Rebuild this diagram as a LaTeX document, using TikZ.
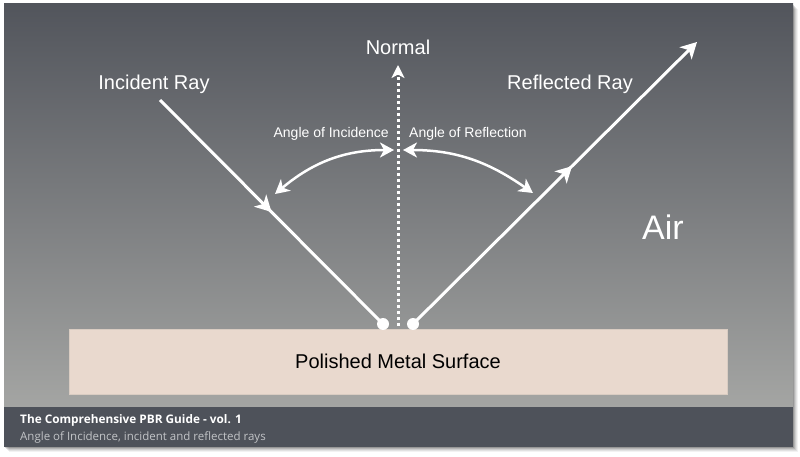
\documentclass[tikz,border=0pt]{standalone}
\usepackage{fontspec}
\setmainfont{Liberation Sans}
\newfontfamily\guidefont{Open Sans}
\usetikzlibrary{arrows.meta,decorations.markings}
\definecolor{slatetop}{HTML}{52555C}
\definecolor{slatebot}{HTML}{A4A5A3}
\definecolor{footbar}{HTML}{4E525A}
\definecolor{metal}{HTML}{E9D9CE}
\definecolor{subgray}{HTML}{C2C4C7}
\tikzset{
  ray/.style={white,line width=3pt},
  midarrow/.style={postaction={decorate,decoration={markings,
      mark=at position #1 with {\arrow{>}}}}},
  midarrow/.default=0.5,
  hitdot/.style={circle,fill=white,inner sep=0pt,minimum size=12pt},
  normalline/.style={white,line width=3pt,dash pattern=on 3pt off 3pt},
  raylabel/.style={text=white,font=\fontsize{20}{24}\selectfont},
  anglelabel/.style={text=white,font=\fontsize{14}{16}\selectfont},
  anglearc/.style={white,line width=2.5pt,<->,
    >={Stealth[length=14pt,width=15pt,inset=4pt]}},
}
\begin{document}
\begin{tikzpicture}[x=1pt,y=1pt,>={Stealth[length=16pt,width=17pt,inset=4.5pt]}]
\useasboundingbox (0,0) rectangle (800,456);
% slide with its shadow
\foreach \s/\o in {5/.05,4/.07,3/.09,2/.12,1/.16}
  \fill[black,opacity=\o] (4+\s,9-\s) rectangle (793+\s,452-\s);
\shade[top color=slatetop,bottom color=slatebot] (4,49) rectangle (793,452);
\fill[footbar] (4,9) rectangle (793,49);
% surface
\node[fill=metal,draw=metal!85!gray,minimum width=658pt,minimum height=65pt,
  inner sep=0pt,font=\fontsize{20}{24}\selectfont] (surface) at (398,94.5)
  {Polished Metal Surface};
% hit points
\node[hitdot] (inHit) at (383,132) {};
\node[hitdot] (refHit) at (413,132) {};
\coordinate (inStart) at (160,356);
\coordinate (refEnd) at (697,414);
\coordinate (normBase) at (398,130);
\coordinate (normTip) at (398,391);
\draw[ray,midarrow] (inStart) -- (inHit.center);
\draw[ray,midarrow=.56,->] (refHit.center) -- (refEnd);
\draw[normalline,->,>={Stealth[length=13pt,width=13pt,inset=3.5pt]}] (normBase) -- (normTip);
% angle arcs
\coordinate (incA) at (275,262);
\coordinate (incB) at (394,306);
\coordinate (refA) at (403,306);
\coordinate (refB) at (533,263);
\draw[anglearc] (incA) to[out=40,in=180] (incB);
\draw[anglearc] (refA) to[out=0,in=145] (refB);
% labels
\node[raylabel] (normalText) at (398,409) {Normal};
\node[raylabel] (incText) at (154,372) {Incident Ray};
\node[raylabel] (refText) at (570,372) {Reflected Ray};
\node[text=white,font=\fontsize{34}{40}\selectfont] (airText) at (663,229) {Air};
\node[anglelabel,anchor=east,inner sep=0pt] (incAngle) at (389,322) {Angle of Incidence};
\node[anglelabel,anchor=west,inner sep=0pt] (refAngle) at (409,322) {Angle of Reflection};
% footer
\node[anchor=west,inner sep=0pt,text=white,font=\guidefont\bfseries\fontsize{11.8}{14}\selectfont]
  (guideTitle) at (20,36) {The Comprehensive PBR Guide - vol. 1};
\node[anchor=west,inner sep=0pt,text=subgray,font=\guidefont\fontsize{11.5}{13}\selectfont]
  (guideSub) at (20,19) {Angle of Incidence, incident and reflected rays};
\end{tikzpicture}
\end{document}
